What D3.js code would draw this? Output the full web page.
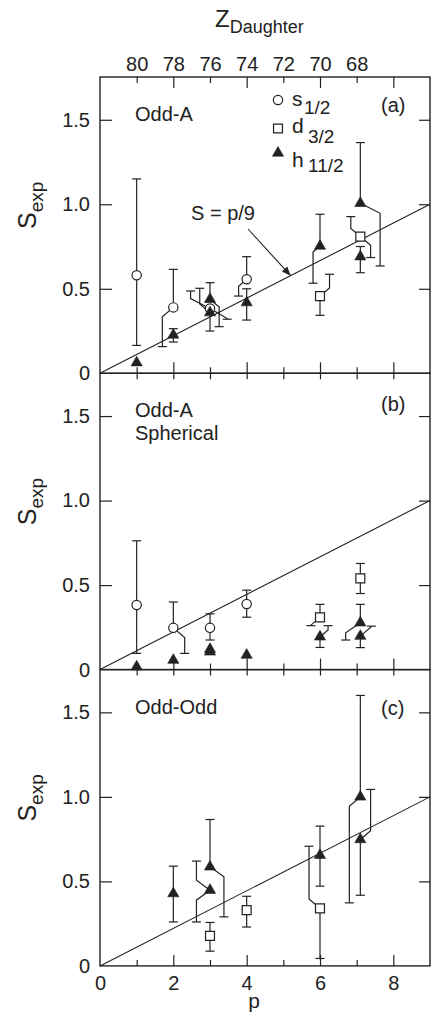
<!DOCTYPE html>
<html>
<head>
<meta charset="utf-8">
<script src="https://cdn.jsdelivr.net/npm/d3@7"></script>
<style>
body { margin: 0; background: #fff; }
svg { display: block; font-family: "Liberation Sans", Arial, sans-serif; }
</style>
</head>
<body>
<div id="chart"></div>
<script>
// one row per measured state:
// [state, p, S, upper end, lower end, upper bar shift in p, lower bar shift in p]
var oddA = [
  ["s", 1, 0.58, 1.15, 0.165, 0, 0],
  ["h", 1, 0.063, null, null, 0, 0],
  ["s", 2, 0.39, 0.615, 0.158, 0, -0.30],
  ["h", 2, 0.227, 0.264, 0.185, 0, 0],
  ["s", 3, 0.383, 0.487, 0.32, -0.53, 0.47],
  ["h", 3, 0.438, 0.536, 0.276, 0, 0.25],
  ["h", 3, 0.359, 0.503, 0.25, -0.28, 0],
  ["s", 4, 0.556, 0.69, 0.457, 0, -0.22],
  ["h", 4, 0.418, 0.50, 0.315, 0, 0],
  ["d", 6, 0.457, 0.586, 0.343, 0.26, 0],
  ["h", 6, 0.753, 0.941, 0.533, 0, -0.19],
  ["d", 7.1, 0.809, 0.927, 0.685, -0.26, 0.28],
  ["h", 7.1, 1.006, 1.365, 0.635, 0, 0.54],
  ["h", 7.1, 0.69, 0.75, 0.595, 0, 0]
];

var oddASpherical = [
  ["s", 1, 0.382, 0.762, 0.096, 0, 0],
  ["h", 1, 0.017, null, null, 0, 0],
  ["s", 2, 0.247, 0.40, 0.096, 0, 0.31],
  ["h", 2, 0.056, null, null, 0, 0],
  ["s", 3, 0.247, 0.33, 0.175, 0, 0],
  ["h", 3, 0.105, null, null, 0, 0],
  ["h", 3, 0.12, null, null, 0, 0],
  ["s", 4, 0.388, 0.47, 0.31, 0, 0],
  ["h", 4, 0.086, null, null, 0, 0],
  ["d", 6, 0.309, 0.386, 0.26, 0, -0.25],
  ["h", 6, 0.194, 0.26, 0.131, 0.22, 0],
  ["d", 7.1, 0.54, 0.628, 0.45, 0, 0],
  ["h", 7.1, 0.277, 0.386, 0.175, 0, -0.40],
  ["h", 7.1, 0.198, 0.257, 0.13, 0.30, 0]
];

var oddOdd = [
  ["h", 2, 0.428, 0.59, 0.26, 0, 0],
  ["h", 3, 0.586, 0.866, 0.29, 0, 0.38],
  ["h", 3, 0.448, 0.62, 0.26, -0.37, -0.37],
  ["d", 3, 0.178, 0.257, 0.087, 0, 0],
  ["d", 4, 0.33, 0.412, 0.23, 0, 0],
  ["h", 6, 0.655, 0.827, 0.472, 0, 0],
  ["d", 6, 0.34, 0.708, 0.044, -0.30, 0],
  ["h", 7.1, 1.0, 1.60, 0.373, 0, -0.30],
  ["h", 7.1, 0.748, 1.044, 0.418, 0.28, 0]
];

var panelData = [oddA, oddASpherical, oddOdd];
var panelNames = [["Odd-A"], ["Odd-A", "Spherical"], ["Odd-Odd"]];
var panelTags = ["(a)", "(b)", "(c)"];
var zTicks = [80, 78, 76, 74, 72, 70, 68];
var pTicks = [0, 2, 4, 6, 8];
var pMinor = [1, 3, 5, 7];
var sTicks = [0, 0.5, 1.0, 1.5];
var fitSlope = 1 / 9;

var ink = "#222";
var width = 432, height = 1016;
var panelTop = 77, panelH = 296.3;
var fs = "20px";

var svg = d3.select("#chart").append("svg")
    .attr("width", width)
    .attr("height", height);

var x = d3.scaleLinear().domain([0, 9]).range([100, 430]);
var z = d3.scaleLinear().domain([82, 64]).range([x(0), x(9)]);

var shapes = {
  s: d3.symbol(d3.symbolCircle, 68),
  d: d3.symbol(d3.symbolSquare, 80),
  h: d3.symbol(d3.symbolTriangle, 54)
};

function marker(sel, state) {
  sel.append("path")
     .attr("d", shapes[state]())
     .attr("fill", state == "h" ? ink : "#fff")
     .attr("stroke", ink)
     .attr("stroke-width", state == "h" ? 0.6 : 1.2);
}

panelData.forEach(function(rows, i) {
  var top = panelTop + i * panelH;
  var y = d3.scaleLinear().domain([0, 1.753]).range([top + panelH, top]);
  var g = svg.append("g");

  // ticks (all inward)
  g.append("g").attr("transform", "translate(" + x(0) + ",0)")
   .call(d3.axisRight(y).tickValues(sTicks.slice(1)).tickSize(12).tickFormat(""));
  g.append("g").attr("transform", "translate(" + x(9) + ",0)")
   .call(d3.axisLeft(y).tickValues(sTicks.slice(1)).tickSize(11).tickFormat(""));
  g.append("g").attr("transform", "translate(0," + (top + panelH) + ")")
   .call(d3.axisTop(x).tickValues(pTicks.slice(1)).tickSize(11).tickFormat(""));
  g.append("g").attr("transform", "translate(0," + (top + panelH) + ")")
   .call(d3.axisTop(x).tickValues(pMinor).tickSize(6).tickFormat(""));
  g.append("g").attr("transform", "translate(0," + top + ")")
   .call(d3.axisBottom(x).tickValues(pTicks.slice(1)).tickSize(i == 0 ? 11 : 6).tickFormat(""));
  g.append("g").attr("transform", "translate(0," + top + ")")
   .call(d3.axisBottom(x).tickValues(pMinor).tickSize(6).tickFormat(""));

  // y tick labels
  g.append("g").attr("transform", "translate(" + x(0) + ",0)")
   .call(d3.axisLeft(y).tickValues(sTicks).tickSize(0).tickPadding(10)
     .tickFormat(function(d) { return d == 0 ? "0" : d3.format(".1f")(d); }));

  g.selectAll(".domain").remove();
  g.selectAll(".tick line").attr("stroke", ink).attr("stroke-width", 1.2);
  g.selectAll(".tick text").attr("fill", ink).style("font-size", fs)
   .style("font-family", "Liberation Sans, Arial, sans-serif");

  g.append("rect")
   .attr("x", x(0)).attr("y", top)
   .attr("width", x(9) - x(0)).attr("height", panelH)
   .attr("fill", "none").attr("stroke", ink).attr("stroke-width", 1.4);

  // S_exp label
  var lab = g.append("text")
     .attr("transform", "translate(36," + (top + 152) + ") rotate(-90)")
     .attr("fill", ink);
  lab.append("tspan").style("font-size", "25px").text("S");
  lab.append("tspan").attr("dy", 7).style("font-size", "19px").text("exp");

  // panel names and tags
  panelNames[i].forEach(function(t, k) {
    g.append("text").attr("x", 135).attr("y", top + 44 + k * 22.5)
     .attr("fill", ink).style("font-size", fs).text(t);
  });
  g.append("text").attr("x", 381).attr("y", top + [35, 38, 45][i])
   .attr("fill", ink).style("font-size", fs).text(panelTags[i]);

  // S = p/9
  g.append("line")
   .attr("x1", x(0)).attr("y1", y(0))
   .attr("x2", x(9)).attr("y2", y(9 * fitSlope))
   .attr("stroke", ink).attr("stroke-width", 1.1);

  // error bars, displaced bars get a bent connector
  rows.forEach(function(r) {
    var px = x(r[1]), py = y(r[2]);
    [[r[3], r[5], -1], [r[4], r[6], 1]].forEach(function(b) {
      if (b[0] == null) return;
      var bx = x(r[1] + b[1]), ey = y(b[0]);
      var bend = Math.min(Math.abs(bx - px) * 0.85, 10);
      var d = b[1] == 0
        ? "M" + px + "," + py + "V" + ey
        : "M" + px + "," + py + "L" + bx + "," + (py + b[2] * bend) + "V" + ey;
      g.append("path").attr("d", d)
       .attr("fill", "none").attr("stroke", ink).attr("stroke-width", 1.2);
      g.append("line")
       .attr("x1", bx - 4.5).attr("x2", bx + 4.5)
       .attr("y1", ey).attr("y2", ey)
       .attr("stroke", ink).attr("stroke-width", 1.2);
    });
  });

  rows.forEach(function(r) {
    g.append("g")
     .attr("transform", "translate(" + x(r[1]) + "," + y(r[2]) + ")")
     .call(marker, r[0]);
  });

  if (i == 0) {
    // annotation arrow onto the fit line
    var ax = x(5.2), ay = y(5.2 * fitSlope);
    svg.append("defs").append("marker")
       .attr("id", "head").attr("viewBox", "0 0 10 10")
       .attr("refX", 10).attr("refY", 5)
       .attr("markerWidth", 11).attr("markerHeight", 9)
       .attr("markerUnits", "userSpaceOnUse")
       .attr("orient", "auto")
     .append("path").attr("d", "M0,1L10,5L0,9Z").attr("fill", ink);
    g.append("line")
     .attr("x1", 248).attr("y1", 229).attr("x2", ax).attr("y2", ay)
     .attr("stroke", ink).attr("stroke-width", 1.1)
     .attr("marker-end", "url(#head)");
    g.append("text").attr("x", 191).attr("y", 220)
     .attr("fill", ink).style("font-size", fs).text("S = p/9");

    // legend
    var leg = [["s", 100, "s", "1/2", 304, 106, 114],
               ["d", 128.5, "d", "3/2", 308, 133, 143],
               ["h", 153, "h", "11/2", 308, 166.5, 172]];
    leg.forEach(function(l) {
      g.append("g").attr("transform", "translate(278," + l[1] + ")").call(marker, l[0]);
      g.append("text").attr("x", 292).attr("y", l[5]).attr("fill", ink)
       .style("font-size", "21px").text(l[2]);
      g.append("text").attr("x", l[4]).attr("y", l[6]).attr("fill", ink)
       .style("font-size", "19px").text(l[3]);
    });

    // Z daughter axis
    var za = g.append("g").attr("transform", "translate(0," + top + ")")
      .call(d3.axisTop(z).tickValues(zTicks).tickSize(0).tickPadding(6));
    za.select(".domain").remove();
    za.selectAll("text").attr("fill", ink).style("font-size", fs)
      .style("font-family", "Liberation Sans, Arial, sans-serif");
    var zt = g.append("text").attr("x", 215).attr("y", 27).attr("fill", ink);
    zt.append("tspan").style("font-size", "24px").text("Z");
    zt.append("tspan").attr("dy", 6).style("font-size", "18px").text("Daughter");
  }

  if (i == 2) {
    var pa = g.append("g").attr("transform", "translate(0," + (top + panelH) + ")")
      .call(d3.axisBottom(x).tickValues(pTicks).tickSize(0).tickPadding(10));
    pa.select(".domain").remove();
    pa.selectAll("text").attr("fill", ink).style("font-size", fs)
      .style("font-family", "Liberation Sans, Arial, sans-serif");
    g.append("text").attr("x", x(4.2)).attr("y", 1008)
     .attr("text-anchor", "middle").attr("fill", ink)
     .style("font-size", "21px").text("p");
  }
});
</script>
</body>
</html>
